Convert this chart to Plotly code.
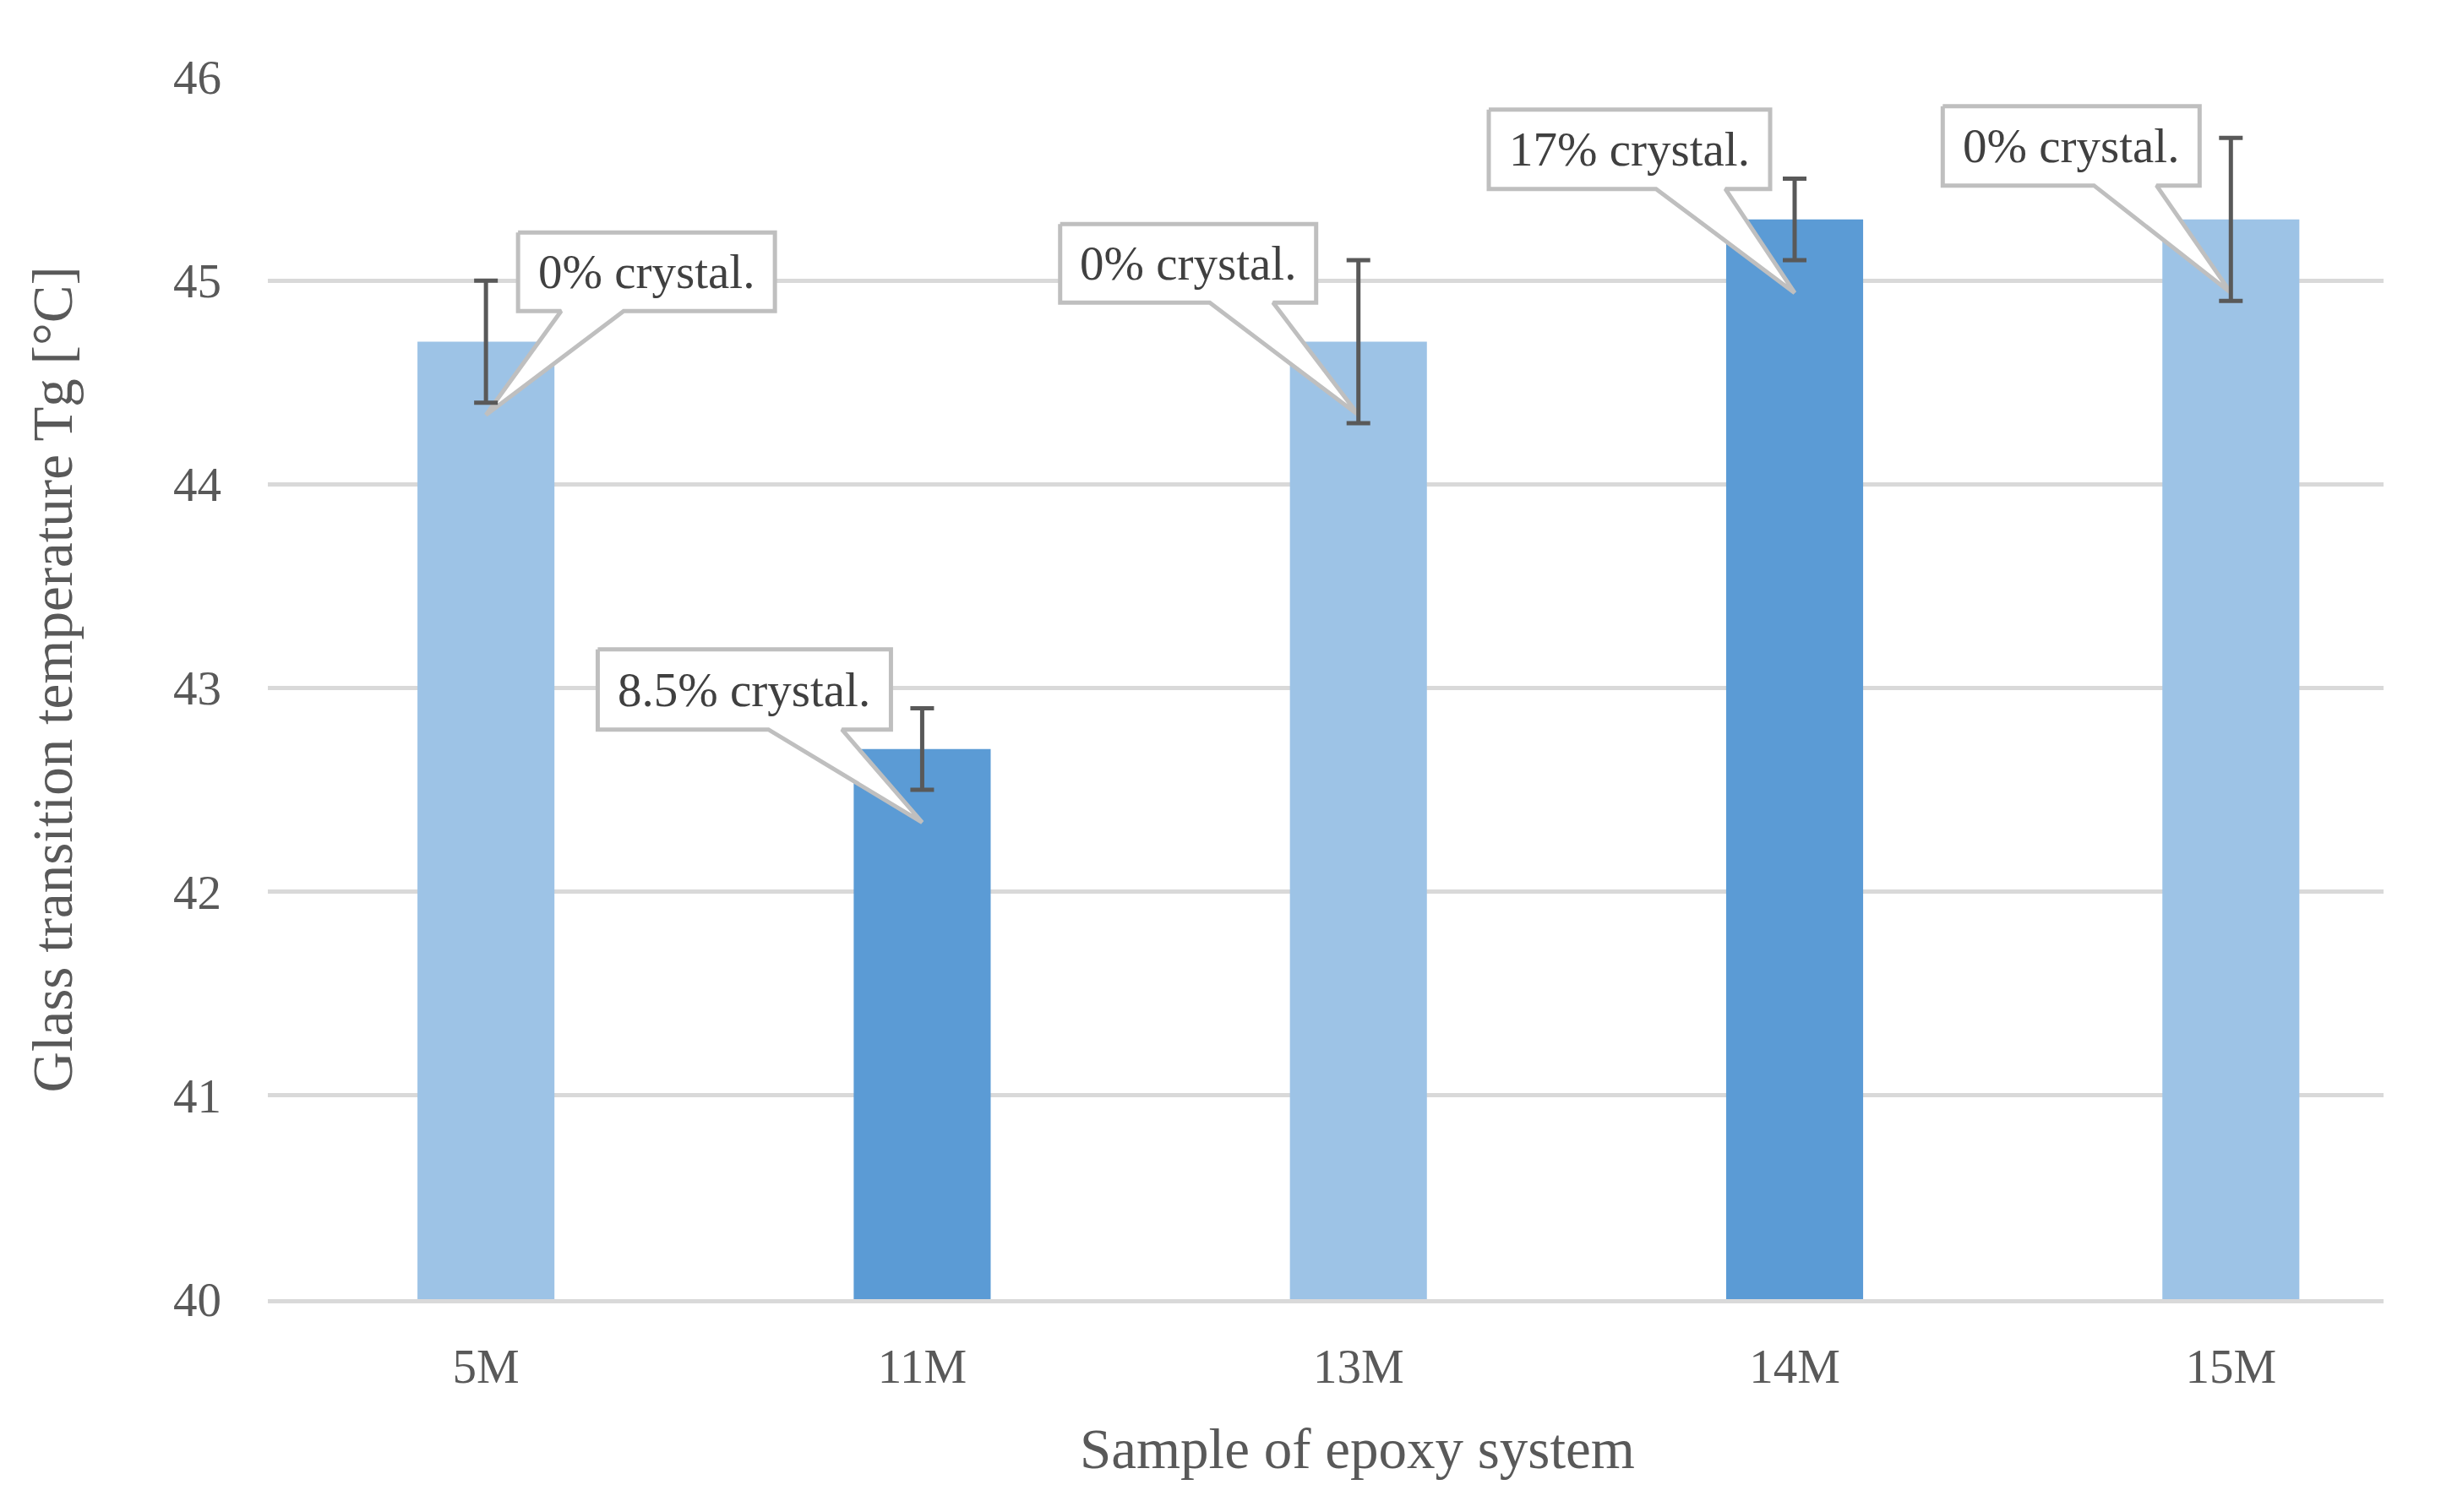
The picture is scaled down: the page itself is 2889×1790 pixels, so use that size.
import plotly.graph_objects as go

# ---------------- data ----------------
categories = ["5M", "11M", "13M", "14M", "15M"]
tg_values = [44.7, 42.7, 44.7, 45.3, 45.3]
tg_errors = [0.3, 0.2, 0.4, 0.2, 0.4]
crystallinity = [0, 8.5, 0, 17, 0]
x_title = "Sample of epoxy system"
y_title = "Glass transition temperature Tg [°C]"

# ---------------- style / layout ----------------
PAGE_W, PAGE_H = 2889, 1790
BODY = 8  # default page margin around the plot div
W, H = PAGE_W - 2 * BODY, PAGE_H - 2 * BODY
M_L, M_R, M_T, M_B = 309, 60, 83, 244
X_RANGE = [-0.5, 4.35]
Y_RANGE = [40, 46]
bar_colors = ["#9DC3E6", "#5B9BD5", "#9DC3E6", "#5B9BD5", "#9DC3E6"]
FONT = "Liberation Serif"
TEXT_COLOR = "#595959"
CALLOUT_TEXT = "#404040"
BORDER = "#BFBFBF"
GRID = "#D9D9D9"
TIP_DROP = 0.36  # callout pointer tip sits this far below bar top (data units)

# callout geometry, pixel offsets relative to pointer tip (y up):
# (left, right, top, bottom, wedge_base_left, wedge_base_right)
callout_geom = [
    (38, 342, 216, 123, 89, 163),
    (-384, -37, 205, 110, -182, -95),
    (-353, -50, 226, 133, -176, -101),
    (-362, -29, 217, 123, -164, -82),
    (-341, -37, 221, 127, -162, -88),
]

plot_w = W - M_L - M_R
plot_h = H - M_T - M_B
px_x = plot_w / (X_RANGE[1] - X_RANGE[0])
px_y = plot_h / (Y_RANGE[1] - Y_RANGE[0])

positions = list(range(len(categories)))

fig = go.Figure()

# bars
fig.add_trace(go.Bar(
    x=positions, y=tg_values, width=0.314,
    marker=dict(color=bar_colors, line=dict(width=0)),
    hoverinfo="skip", showlegend=False,
))

# callouts (box + pointer)
annotations = []
for xi, v, c, g in zip(positions, tg_values, crystallinity, callout_geom):
    L, R, T, B, w1, w2 = g
    ty = v - TIP_DROP
    pts = [(L, T), (R, T), (R, B), (w2, B), (0, 0), (w1, B), (L, B), (L, T)]
    xs = [xi + p[0] / px_x for p in pts]
    ys = [ty + p[1] / px_y for p in pts]
    fig.add_trace(go.Scatter(
        x=xs, y=ys, mode="lines", fill="toself", fillcolor="white",
        line=dict(color=BORDER, width=5), hoverinfo="skip", showlegend=False,
    ))
    annotations.append(dict(
        x=xi + (L + R) / 2 / px_x, y=ty + (T + B) / 2 / px_y,
        xref="x", yref="y", showarrow=False,
        text=f"{c:g}% crystal.",
        font=dict(family=FONT, size=57, color=CALLOUT_TEXT),
        xanchor="center", yanchor="middle",
    ))

# axis titles
annotations.append(dict(
    text=x_title, xref="paper", yref="paper", x=0.5, y=0,
    xshift=37, yshift=-177, showarrow=False,
    xanchor="center", yanchor="middle",
    font=dict(family=FONT, size=67, color=TEXT_COLOR),
))
annotations.append(dict(
    text=y_title, xref="paper", yref="paper", x=0, y=0.5,
    xshift=-256, yshift=10, showarrow=False, textangle=-90,
    xanchor="center", yanchor="middle",
    font=dict(family=FONT, size=67, color=TEXT_COLOR),
))

# error bars on top
fig.add_trace(go.Scatter(
    x=positions, y=tg_values, mode="markers",
    marker=dict(size=1, opacity=0),
    error_y=dict(type="data", array=tg_errors, visible=True,
                 color="#595959", thickness=5, width=14),
    hoverinfo="skip", showlegend=False,
))

fig.update_layout(
    width=W, height=H,
    margin=dict(l=M_L, r=M_R, t=M_T, b=M_B, pad=0),
    paper_bgcolor="white", plot_bgcolor="white",
    font=dict(family=FONT, color=TEXT_COLOR),
    annotations=annotations,
    xaxis=dict(
        range=X_RANGE, tickvals=positions, ticktext=categories,
        showgrid=False, zeroline=False,
        showline=True, linecolor=GRID, linewidth=5,
        ticks="", ticklabelstandoff=26,
        tickfont=dict(family=FONT, size=57, color=TEXT_COLOR),
    ),
    yaxis=dict(
        range=Y_RANGE, dtick=1, tick0=40,
        showgrid=True, gridcolor=GRID, gridwidth=5,
        zeroline=False, showline=False, ticks="",
        ticklabelstandoff=54,
        tickfont=dict(family=FONT, size=57, color=TEXT_COLOR),
    ),
)

fig.write_html("out.html")
